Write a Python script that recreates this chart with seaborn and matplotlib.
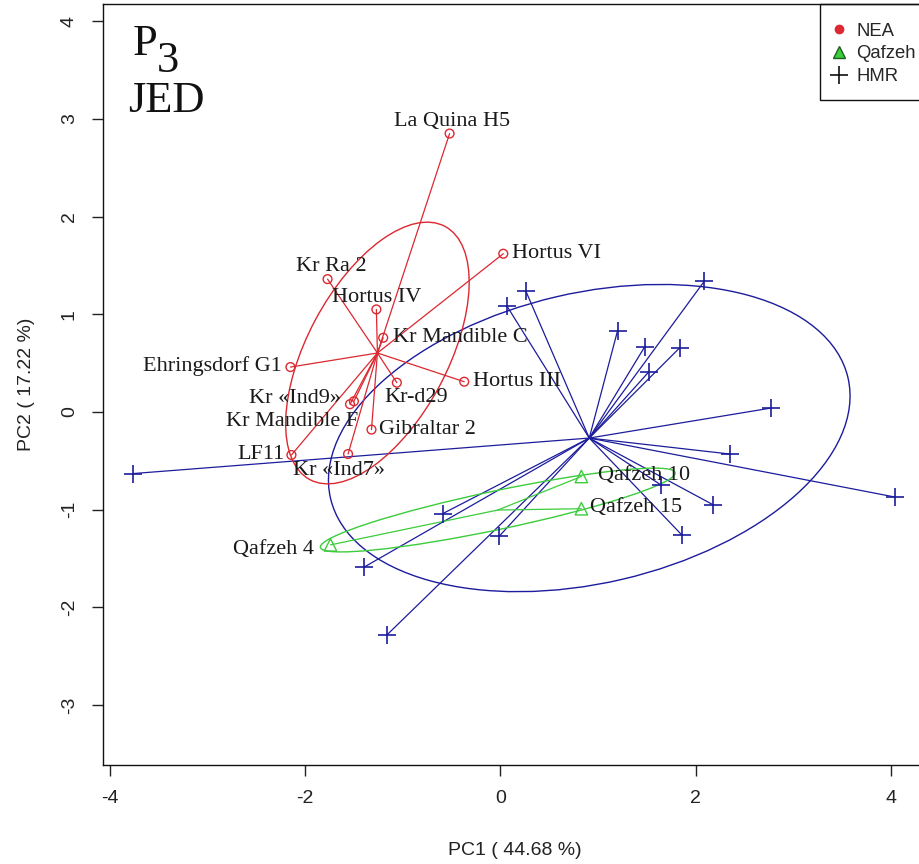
import numpy as np
import pandas as pd
import matplotlib.pyplot as plt
import seaborn as sns
from matplotlib.patches import Ellipse, Rectangle
from matplotlib.lines import Line2D

# NEA specimens (PC1, PC2)
nea_names = ["La Quina H5", "Hortus VI", "Kr Ra 2", "Hortus IV", "Kr Mandible C",
             "Ehringsdorf G1", "Hortus III", "Kr-d29", "Kr «Ind9»", "Kr Mandible F",
             "Gibraltar 2", "LF11", "Kr «Ind7»"]
nea_pc1 = [-0.52, 0.03, -1.77, -1.27, -1.20, -2.15, -0.37, -1.06, -1.50, -1.54, -1.32, -2.14, -1.56]
nea_pc2 = [2.85, 1.62, 1.36, 1.05, 0.76, 0.46, 0.31, 0.30, 0.11, 0.08, -0.18, -0.44, -0.43]

# Qafzeh specimens
qaf_names = ["Qafzeh 10", "Qafzeh 15", "Qafzeh 4"]
qaf_pc1 = [0.83, 0.83, -1.74]
qaf_pc2 = [-0.66, -0.99, -1.36]

# HMR specimens (unlabelled)
hmr_pc1 = [2.09, 0.26, 0.07, 1.20, 1.48, 1.84, 1.52, 2.77, 2.35, 4.04,
           1.65, 2.18, 1.86, -0.01, -0.59, -1.40, -1.16, -3.76]
hmr_pc2 = [1.34, 1.24, 1.08, 0.83, 0.67, 0.66, 0.41, 0.04, -0.43, -0.87,
           -0.75, -0.95, -1.26, -1.27, -1.04, -1.59, -2.28, -0.63]

x_ticks = [-4, -2, 0, 2, 4]
y_ticks = [-3, -2, -1, 0, 1, 2, 3, 4]
x_label = "PC1 ( 44.68 %)"
y_label = "PC2 ( 17.22 %)"

# label placement: offset in pixels from the point, horizontal alignment
label_pos = {
    "La Quina H5": (2, 12, "center"), "Hortus VI": (9, 0, "left"),
    "Kr Ra 2": (4, 13, "center"), "Hortus IV": (0, 12, "center"),
    "Kr Mandible C": (10, 0, "left"), "Ehringsdorf G1": (-9, 1, "right"),
    "Hortus III": (9, 0, "left"), "Kr-d29": (-12, -15, "left"),
    "Kr «Ind9»": (-13, 3, "right"), "Kr Mandible F": (8, -17, "right"),
    "Gibraltar 2": (8, 0, "left"), "LF11": (-7, 0, "right"),
    "Kr «Ind7»": (-9, -16, "center"),
    "Qafzeh 10": (17, 1, "left"), "Qafzeh 15": (9, 1, "left"),
    "Qafzeh 4": (-16, -5, "right"),
}

RED = "#dc2830"
GREEN = "#3ccc3c"
BLUE = "#1c1c9c"
SERIF = ["Liberation Serif", "DejaVu Serif"]

df = pd.concat([
    pd.DataFrame({"x": nea_pc1, "y": nea_pc2, "group": "NEA", "name": nea_names}),
    pd.DataFrame({"x": qaf_pc1, "y": qaf_pc2, "group": "Qafzeh", "name": qaf_names}),
    pd.DataFrame({"x": hmr_pc1, "y": hmr_pc2, "group": "HMR", "name": ""}),
], ignore_index=True)

sns.set_style("white")
plt.rcParams["font.family"] = ["Liberation Sans", "DejaVu Sans"]
plt.rcParams["axes.unicode_minus"] = False

fig = plt.figure(figsize=(9.2, 8.64), dpi=100)
ax = fig.add_axes([103 / 920, 1 - 765 / 864, 824 / 920, 761 / 864])


def class_ellipse(sub, color, coeff=1.5):
    # ade4 s.class style: centroid, star segments, covariance ellipse
    mx, my = sub["x"].mean(), sub["y"].mean()
    cov = np.cov(sub["x"], sub["y"], bias=True)
    vals, vecs = np.linalg.eigh(cov)
    order = vals.argsort()[::-1]
    vals, vecs = vals[order], vecs[:, order]
    ang = np.degrees(np.arctan2(vecs[1, 0], vecs[0, 0]))
    ax.add_patch(Ellipse((mx, my), 2 * coeff * np.sqrt(vals[0]), 2 * coeff * np.sqrt(vals[1]),
                         angle=ang, fill=False, edgecolor=color, lw=1.0, zorder=2))
    for px, py in zip(sub["x"], sub["y"]):
        ax.plot([mx, px], [my, py], color=color, lw=0.9, zorder=2)


styles = {"HMR": (BLUE, "+"), "Qafzeh": (GREEN, "^"), "NEA": (RED, "o")}
for grp in ["HMR", "Qafzeh", "NEA"]:
    sub = df[df["group"] == grp]
    col, mk = styles[grp]
    class_ellipse(sub, col)
    if mk == "+":
        sns.scatterplot(data=sub, x="x", y="y", marker="+", color=col, s=150,
                        linewidth=1.2, ax=ax, zorder=3, legend=False)
    else:
        size = 40 if mk == "o" else 80
        sns.scatterplot(data=sub, x="x", y="y", marker=mk, facecolor="none",
                        edgecolor=col, color=col, s=size, linewidth=1.0, ax=ax,
                        zorder=3, legend=False)

for _, r in df[df["name"] != ""].iterrows():
    dx, dy, ha = label_pos[r["name"]]
    ax.annotate(r["name"], (r["x"], r["y"]), xytext=(dx, dy), textcoords="offset pixels",
                ha=ha, va="center", fontsize=16, family=SERIF, color="#1a1a1a", zorder=4)

ax.set_xlim(-4.07, 4.37)
ax.set_ylim(-3.613, 4.176)
ax.set_xticks(x_ticks)
ax.set_yticks(y_ticks)
ax.set_xlabel(x_label, fontsize=14, color="#222222", labelpad=25)
ax.set_ylabel(y_label, fontsize=14, color="#222222", labelpad=19)
ax.tick_params(axis="both", direction="out", length=8, width=1, color="#222222",
               labelsize=14, labelcolor="#222222", pad=10, bottom=True, left=True)
ax.tick_params(axis="y", labelrotation=90)
for lab in ax.get_yticklabels():
    lab.set_verticalalignment("center")
for sp in ax.spines.values():
    sp.set_color("#111111")
    sp.set_linewidth(1.0)

# legend box (R style, anchored at the top-right corner of the plot)
fig.patches.append(Rectangle((820 / 920, 1 - 100 / 864), 110 / 920, 96 / 864,
                             transform=fig.transFigure, fill=False,
                             edgecolor="#111111", lw=1.0, zorder=5))
handles = [
    Line2D([], [], ls="none", marker="o", color=RED, markersize=6),
    Line2D([], [], ls="none", marker="^", markerfacecolor=GREEN, markeredgecolor="#1f5f1f",
           markersize=9),
    Line2D([], [], ls="none", marker="+", color="#111111", markersize=13, markeredgewidth=1.2),
]
leg = fig.legend(handles, ["NEA", "Qafzeh", "HMR"], loc="center left",
                 bbox_to_anchor=(829 / 920, 1 - 54 / 864), borderaxespad=0,
                 fontsize=13.3, frameon=False, handlelength=1.05, handletextpad=0.44,
                 labelspacing=0.3, borderpad=0)

fig.text(133 / 920, 1 - 55 / 864, "P", fontsize=32, family=SERIF, va="baseline", color="#111111")
fig.text(157 / 920, 1 - 72 / 864, "3", fontsize=32, family=SERIF, va="baseline", color="#111111")
fig.text(128 / 920, 1 - 112 / 864, "JED", fontsize=32, family=SERIF, va="baseline", color="#111111")

fig.savefig("out.png", dpi=100)
